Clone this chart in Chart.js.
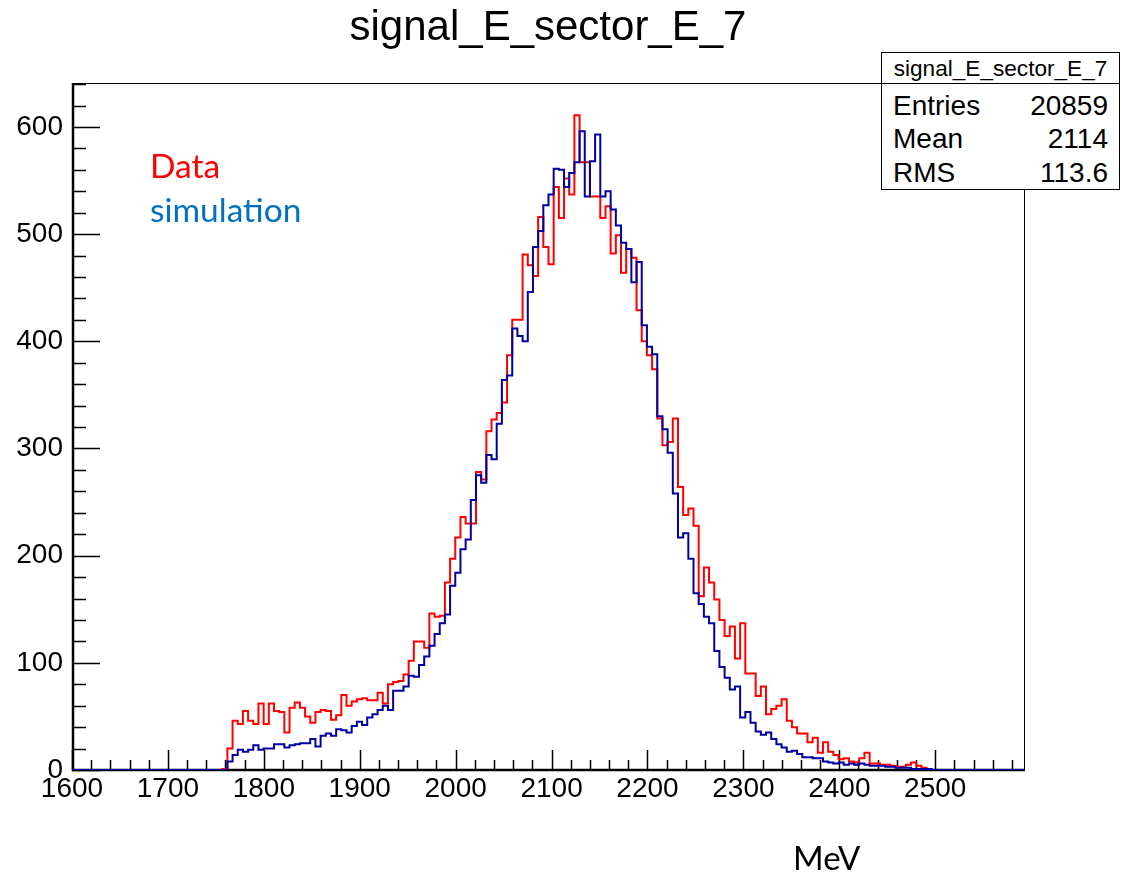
<!DOCTYPE html>
<html><head><meta charset="utf-8">
<script src="https://cdn.jsdelivr.net/npm/chart.js@4.4.0/dist/chart.umd.min.js"></script>
<style>
html,body{margin:0;padding:0;background:#fff;}
#wrap{position:relative;width:1128px;height:872px;overflow:hidden;background:#fff;}
#c{position:absolute;left:0;top:0;}
.t{position:absolute;white-space:nowrap;font-family:"Liberation Sans",Arial,sans-serif;color:#000;line-height:1;}
.c{font-family:Lato,"Open Sans",sans-serif;}
#stats{position:absolute;left:881px;top:52px;width:237px;height:136px;border:1.5px solid #000;background:#fff;}
#stats .hd{position:absolute;left:0;top:0;width:237px;height:30px;border-bottom:1.5px solid #000;}
</style></head>
<body><div id="wrap">
<canvas id="c" width="1128" height="872"></canvas>
<div class="t" id="title" style="left:548px;top:5px;font-size:42px;transform:translateX(-50%);">signal_E_sector_E_7</div>
<div id="stats">
  <div class="hd"><div class="t" style="left:0;width:237px;text-align:center;top:5px;font-size:22.6px;">signal_E_sector_E_7</div></div>
  <div class="t" style="left:11px;top:39px;font-size:28px;">Entries</div>
  <div class="t" style="right:11px;top:39px;font-size:28px;">20859</div>
  <div class="t" style="left:11px;top:72px;font-size:28px;">Mean</div>
  <div class="t" style="right:11px;top:72px;font-size:28px;">2114</div>
  <div class="t" style="left:11px;top:106px;font-size:28px;">RMS</div>
  <div class="t" style="right:11px;top:106px;font-size:28px;">113.6</div>
</div>
<div class="t c" style="left:150px;top:149px;font-size:33.5px;color:#ff0000;">Data</div>
<div class="t c" style="left:150px;top:193px;font-size:33.5px;color:#0070c0;">simulation</div>
<div class="t c" style="left:793px;top:841px;font-size:33px;">MeV</div>
</div>
<script>
// ---- data ----
const xMin = 1600;
const binWidth = 5.4;
const xTickStep = 100;
const yTickStep = 100;
const yMax = 641;
const dataCounts = [
0,0,0,0,0,0,0,0,0,0,
0,0,0,0,0,0,0,0,0,0,
0,0,0,0,0,0,0,0,0,1,
20,46,43,55,46,43,62,43,62,55,
54,35,58,63,58,50,44,54,56,55,
47,51,70,60,64,66,67,65,65,72,
62,80,82,83,89,102,120,120,114,146,
143,144,175,197,217,236,230,230,278,271,
316,327,333,343,387,420,420,481,471,461,
516,488,472,544,515,552,537,611,567,567,
535,535,515,526,482,499,464,486,478,429,
400,387,374,328,303,306,328,264,238,244,
228,162,189,175,159,140,125,134,104,137,
90,90,69,78,52,57,60,66,46,40,
34,34,26,30,16,26,17,14,10,11,
8,7,11,16,6,6,5,5,4,3,
3,5,7,4,2,0,0,0,0,0,
0,0,0,0,0,0,0,0,0,0,
0,0,0,0
];
const simCounts = [
0,0,0,0,0,0,0,0,0,0,
0,0,0,0,0,0,0,0,0,0,
0,0,0,0,0,0,0,0,0,0,
8,14,19,17,19,23,19,20,20,24,
24,21,23,24,25,25,29,22,32,34,
32,38,37,35,41,45,42,49,52,56,
60,56,74,74,78,88,87,98,106,116,
127,137,145,172,184,206,215,252,275,268,
294,290,323,364,368,412,405,400,446,488,
503,527,537,561,560,544,557,567,596,535,
568,593,535,540,523,508,492,486,455,474,
415,395,388,330,318,296,258,217,221,197,
165,155,143,137,111,96,86,75,78,49,
54,44,36,33,35,29,24,21,17,18,
15,12,12,11,11,8,7,6,7,5,
6,5,6,5,4,4,4,3,3,2,
2,2,1,1,1,1,0,0,0,0,
0,0,0,0,0,0,0,0,0,0,
0,0,0,0
];
const xTickValues = [1600,1700,1800,1900,2000,2100,2200,2300,2400,2500];
const yTickValues = [0,100,200,300,400,500,600];

const nBins = dataCounts.length;
const xMax = xMin + nBins * binWidth;
function toSteps(counts){
  const pts = counts.map((v,i)=>({x: xMin + i*binWidth, y: v}));
  pts.push({x: xMax, y: counts[counts.length-1]});
  return pts;
}

const rootFrame = {
  id: 'rootFrame',
  beforeDatasetsDraw(chart){
    const {ctx, chartArea: a, scales} = chart;
    const x = scales.x, y = scales.y;
    ctx.save();
    ctx.strokeStyle = '#000';
    ctx.lineWidth = 1;
    ctx.strokeRect(a.left + 0.5, a.top + 0.5, a.right - a.left - 1, a.bottom - a.top);
    ctx.lineWidth = 1.5;
    ctx.beginPath();
    const xm = xTickStep / 5;
    const nx = Math.floor((x.max - x.min) / xm + 1e-9);
    for (let i = 0; i <= nx; i++) {
      const px = Math.round(x.getPixelForValue(x.min + i * xm)) + 0.5;
      const len = (i % 5 === 0) ? 20 : 10;
      ctx.moveTo(px, a.bottom);
      ctx.lineTo(px, a.bottom - len);
    }
    const ym = yTickStep / 5;
    const ny = Math.floor((y.max - y.min) / ym + 1e-9);
    for (let i = 0; i <= ny; i++) {
      const py = Math.round(y.getPixelForValue(y.min + i * ym)) + 0.5;
      const len = (i % 5 === 0) ? 28 : 14;
      ctx.moveTo(a.left, py);
      ctx.lineTo(a.left + len, py);
    }
    ctx.stroke();
    ctx.lineWidth = 2.5;
    ctx.beginPath();
    ctx.moveTo(a.left + 1, a.top);
    ctx.lineTo(a.left + 1, a.bottom);
    ctx.lineTo(a.right, a.bottom);
    ctx.stroke();
    ctx.restore();
  }
};

new Chart(document.getElementById('c'), {
  type: 'line',
  data: {
    datasets: [
      {label:'simulation', data: toSteps(simCounts), borderColor:'rgb(0,0,160)', borderWidth:2, stepped:'before', pointRadius:0, fill:false, tension:0},
      {label:'Data', data: toSteps(dataCounts), borderColor:'#ff0000', borderWidth:2, stepped:'before', pointRadius:0, fill:false, tension:0}
    ]
  },
  options: {
    responsive:false, animation:false, devicePixelRatio:1,
    layout:{padding:{left:0, top:83, right:103, bottom:0}},
    plugins:{legend:{display:false}, tooltip:{enabled:false}, title:{display:false}},
    scales:{
      x:{type:'linear', min:xMin, max:xMax,
         grid:{display:false, drawTicks:false}, border:{display:false},
         afterBuildTicks:(s)=>{ s.ticks = xTickValues.map(v=>({value:v})); },
         ticks:{autoSkip:false, maxRotation:0, minRotation:0, padding:2, color:'#000',
                font:{family:'Liberation Sans', size:28},
                callback:(v)=>String(Math.round(v))},
         afterFit:(s)=>{s.height = 102;}},
      y:{type:'linear', min:0, max:yMax,
         grid:{display:false, drawTicks:false}, border:{display:false},
         afterBuildTicks:(s)=>{ s.ticks = yTickValues.map(v=>({value:v})); },
         ticks:{autoSkip:false, padding:9, color:'#000',
                font:{family:'Liberation Sans', size:28},
                callback:(v)=>String(Math.round(v))},
         afterFit:(s)=>{s.width = 72;}}
    }
  },
  plugins:[rootFrame]
});
</script>
</body></html>
